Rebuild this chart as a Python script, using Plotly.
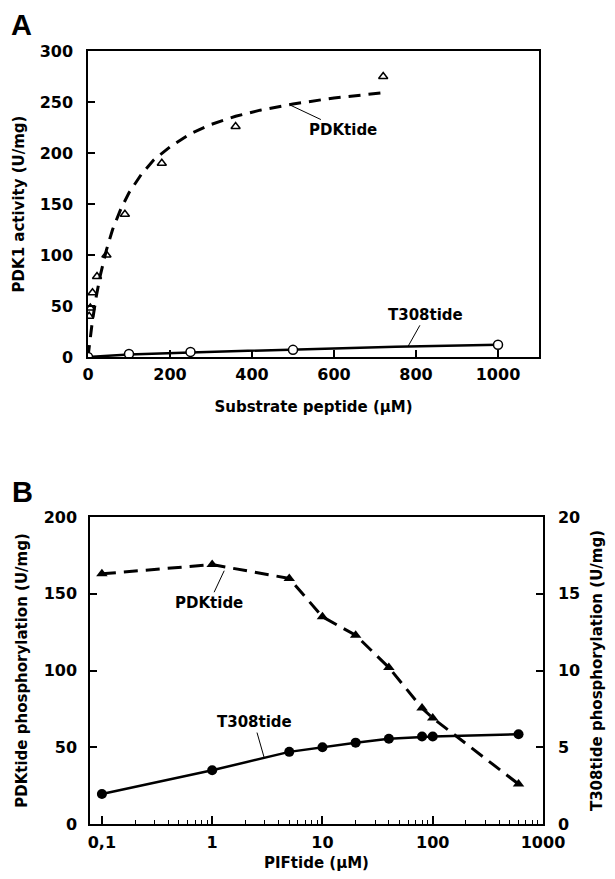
import plotly.graph_objects as go

# ---------------- Panel A data ----------------
a_pdk_x = [0, 2.8, 5.6, 11, 22, 45, 90, 180, 360, 720]
a_pdk_y = [0, 40, 48, 63, 79, 100, 140, 190, 226, 275]
a_pdk_fit_x = [0, 5, 10, 20, 30, 45, 60, 80, 100, 130, 160, 200, 250, 300, 360, 420, 500, 600, 720]
a_pdk_fit_y = [0, 17, 33, 59, 80, 105, 125, 145, 161, 179, 193, 206, 219, 228, 236, 242, 248, 254, 259]
a_t308_x = [0, 100, 250, 500, 1000]
a_t308_y = [0, 3, 5, 7, 12]
a_t308_fit_x = [0, 100, 250, 500, 750, 1000]
a_t308_fit_y = [0, 2.5, 4.5, 7.5, 10, 12]
a_xticks = [0, 200, 400, 600, 800, 1000]
a_yticks = [0, 50, 100, 150, 200, 250, 300]

# ---------------- Panel B data ----------------
b_x = [0.1, 1, 5, 10, 20, 40, 80, 100, 600]
b_pdk_y = [163, 169, 160, 135, 123, 102, 75.5, 69, 26]
b_t308_y = [1.95, 3.5, 4.7, 5.0, 5.3, 5.55, 5.7, 5.7, 5.85]
b_xticks = [0.1, 1, 10, 100, 1000]
b_xticktext = ["0,1", "1", "10", "100", "1000"]
b_minor = [m * d for d in [0.1, 1, 10, 100] for m in range(2, 10)]
b_yleft = [0, 50, 100, 150, 200]
b_yright = [0, 5, 10, 15, 20]

W, H = 615, 879
OFF = 8  # page body margin offset
FONT = dict(family="DejaVu Sans, Liberation Sans, sans-serif", color="black", size=15, weight="bold")

fig = go.Figure()

# Panel A
fig.add_trace(go.Scatter(x=a_pdk_fit_x, y=a_pdk_fit_y, mode="lines", line=dict(color="black", width=3, dash="12px,8px"),
                         xaxis="x", yaxis="y", showlegend=False, hoverinfo="skip"))
fig.add_trace(go.Scatter(x=a_pdk_x, y=a_pdk_y, mode="markers",
                         marker=dict(symbol="triangle-up-open", size=8, color="black", line=dict(width=1.5)),
                         xaxis="x", yaxis="y", showlegend=False))
fig.add_trace(go.Scatter(x=a_t308_fit_x, y=a_t308_fit_y, mode="lines", line=dict(color="black", width=2.5),
                         xaxis="x", yaxis="y", showlegend=False, hoverinfo="skip"))
fig.add_trace(go.Scatter(x=a_t308_x, y=a_t308_y, mode="markers",
                         marker=dict(symbol="circle", size=9, color="white", line=dict(width=1.5, color="black")),
                         xaxis="x", yaxis="y", showlegend=False))

# Panel B
fig.add_trace(go.Scatter(x=b_x, y=b_pdk_y, mode="lines+markers", line=dict(color="black", width=3, dash="14px,8px"),
                         marker=dict(symbol="triangle-up", size=10, color="black"),
                         xaxis="x2", yaxis="y2", showlegend=False))
fig.add_trace(go.Scatter(x=b_x, y=b_t308_y, mode="lines+markers", line=dict(color="black", width=2.5),
                         marker=dict(symbol="circle", size=10, color="black"),
                         xaxis="x2", yaxis="y3", showlegend=False))

def px_x(p):
    return (p - OFF) / W

def px_y(p):
    return 1 - (p - OFF) / H

axis_common = dict(showline=True, linecolor="black", linewidth=1.5, ticks="inside", tickcolor="black",
                   tickwidth=1.5, showgrid=False, zeroline=False, tickfont=dict(size=16),
                   automargin=False)

fig.update_layout(
    template="none",
    width=W, height=H, margin=dict(l=0, r=0, t=0, b=0, autoexpand=False),
    paper_bgcolor="white", plot_bgcolor="white", font=FONT,
    xaxis=dict(**axis_common, domain=[px_x(88), px_x(539)], range=[0, 1100], tickvals=a_xticks, ticklen=7,
               mirror=True, anchor="y", ticklabelstandoff=2,
               title=dict(text="Substrate peptide (μM)", standoff=19, font=dict(size=15))),
    yaxis=dict(**axis_common, domain=[px_y(357), px_y(51)], range=[0, 300], tickvals=a_yticks, ticklen=7,
               mirror=True, anchor="x", ticklabelstandoff=10,
               title=dict(text="PDK1 activity (U/mg)", standoff=11, font=dict(size=15))),
    xaxis2=dict(**axis_common, domain=[px_x(90), px_x(543)], type="log", range=[-1.108, 3.0],
                tickvals=b_xticks, ticktext=b_xticktext, ticklen=8, mirror=True, anchor="y2",
                ticklabelstandoff=3,
                minor=dict(ticks="inside", ticklen=4, tickwidth=1, tickcolor="black", tickvals=b_minor, showgrid=False),
                title=dict(text="PIFtide (μM)", standoff=7, font=dict(size=15))),
    yaxis2=dict(**axis_common, domain=[px_y(824), px_y(517)], range=[0, 200], tickvals=b_yleft, ticklen=7,
                mirror=True, anchor="x2", ticklabelstandoff=8,
                title=dict(text="PDKtide phosphorylation (U/mg)", standoff=12, font=dict(size=15))),
    yaxis3=dict(**axis_common, domain=[px_y(824), px_y(517)], range=[0, 20], tickvals=b_yright, ticklen=7,
                overlaying="y2", side="right", anchor="x2", ticklabelstandoff=10,
                title=dict(text="T308tide phosphorylation (U/mg)", standoff=12, font=dict(size=15))),
)

ann = [
    dict(text="A", x=px_x(21), y=px_y(25), xref="paper", yref="paper", showarrow=False,
         font=dict(size=29, family="Liberation Sans, Arial"), xanchor="center", yanchor="middle"),
    dict(text="B", x=px_x(22), y=px_y(492), xref="paper", yref="paper", showarrow=False,
         font=dict(size=29, family="Liberation Sans, Arial"), xanchor="center", yanchor="middle"),
    dict(text="PDKtide", x=493, y=247, xref="x", yref="y", ax=53, ay=25, showarrow=True, arrowhead=0,
         arrowwidth=1, arrowcolor="black", font=dict(size=15)),
    dict(text="T308tide", x=780, y=10, xref="x", yref="y", ax=18, ay=-32, showarrow=True, arrowhead=0,
         arrowwidth=1, arrowcolor="black", font=dict(size=15)),
    dict(text="PDKtide", x=0.109, y=165, xref="x2", yref="y2", ax=-15, ay=32, showarrow=True, arrowhead=0,
         arrowwidth=1, arrowcolor="black", font=dict(size=15)),
    dict(text="T308tide", x=0.47, y=4.36, xref="x2", yref="y3", ax=-10, ay=-35, showarrow=True, arrowhead=0,
         arrowwidth=1, arrowcolor="black", font=dict(size=15)),
]
fig.update_layout(annotations=ann)

fig.write_html("out.html")
